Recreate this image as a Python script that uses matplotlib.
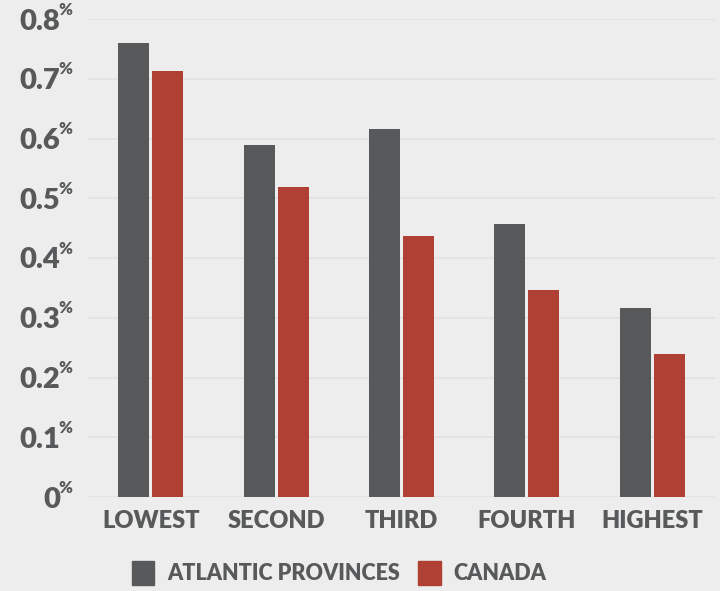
import numpy as np
import matplotlib
matplotlib.use("Agg")
import matplotlib.pyplot as plt
from matplotlib.patches import Patch

# data
groups = ["LOWEST", "SECOND", "THIRD", "FOURTH", "HIGHEST"]
atlantic = [0.76, 0.589, 0.616, 0.457, 0.317]
canada = [0.713, 0.518, 0.436, 0.347, 0.240]
yticks = [0, 0.1, 0.2, 0.3, 0.4, 0.5, 0.6, 0.7, 0.8]
ytick_labels = ["0", "0.1", "0.2", "0.3", "0.4", "0.5", "0.6", "0.7", "0.8"]

grey = "#58595b"
red = "#b03f34"
bg = "#ecedec"

plt.rcParams["font.family"] = ["Lato", "DejaVu Sans"]

fig = plt.figure(figsize=(7.2, 5.91), dpi=100, facecolor=bg)
ax = fig.add_axes([88 / 720, 94 / 591, 627 / 720, 478 / 591])
ax.set_facecolor(bg)

x = np.arange(len(groups))
w = 0.247
ax.bar(x - 0.135, atlantic, w, color=grey, zorder=3)
ax.bar(x + 0.135, canada, w, color=red, zorder=3)

ax.set_xlim(-0.5, len(groups) - 0.5)
ax.set_ylim(0, 0.8)
ax.set_yticks(yticks)
ax.set_yticklabels(ytick_labels)
ax.set_xticks(x)
ax.set_xticklabels(groups)
ax.tick_params(axis="y", length=0, pad=20, labelsize=21, labelcolor=grey)
ax.tick_params(axis="x", length=0, pad=9, labelsize=17, labelcolor=grey)
for lbl in ax.get_xticklabels() + ax.get_yticklabels():
    lbl.set_fontweight("heavy")

ax.grid(axis="y", color="#e2e3e2", linewidth=1.5, zorder=0)
for s in ax.spines.values():
    s.set_visible(False)

# superscript percent signs
for v in yticks:
    ax.annotate("%", xy=(0, v), xycoords=("axes fraction", "data"),
                xytext=(-21, 1), textcoords="offset points",
                ha="left", va="bottom", fontsize=12, fontweight="heavy",
                color=grey)

handles = [Patch(color=grey, label="ATLANTIC PROVINCES"),
           Patch(color=red, label="CANADA")]
leg = fig.legend(handles=handles, loc="center", ncol=2,
                 bbox_to_anchor=(339 / 720, 1 - 573 / 591),
                 frameon=False, fontsize=15.5, handlelength=1.05,
                 handleheight=1.3, handletextpad=0.6, columnspacing=0.85)
for t in leg.get_texts():
    t.set_color(grey)
    t.set_fontweight("heavy")

fig.savefig("out.png", dpi=100, facecolor=bg)
